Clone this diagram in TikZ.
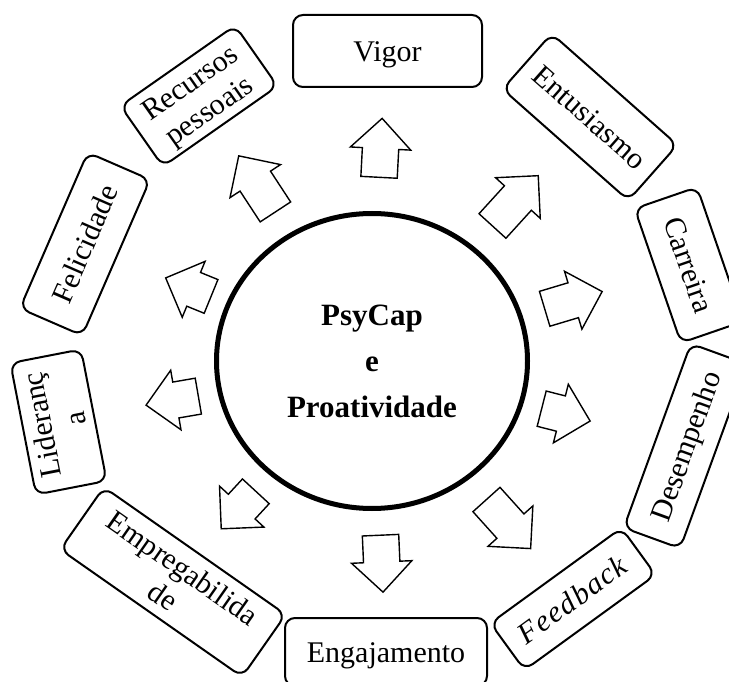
\documentclass[tikz,border=0pt]{standalone}
\usepackage{fontspec}
\setmainfont{Liberation Serif}
\usetikzlibrary{shapes.geometric,shapes.arrows}
\newcommand{\wstrut}{\rule[-0.216em]{0pt}{1.107em}}
\tikzset{
  termbox/.style={draw, line width=2pt, rounded corners=10pt, align=center, inner sep=0pt, font=\fontsize{30}{34}\selectfont},
  outarrow/.style={draw, line width=1.4pt, single arrow, single arrow head extend=12pt, single arrow head indent=0pt, inner xsep=0pt, inner ysep=17.5pt, anchor=tail},
}
\begin{document}
\begin{tikzpicture}[x=1pt,y=-1pt]
        \useasboundingbox (0,0) rectangle (729,682);
        \clip (0,0) rectangle (729,682);
        \node[draw, ellipse, line width=5pt, minimum width=311pt, minimum height=295pt, inner sep=0pt, align=center, font=\bfseries\fontsize{31}{46}\selectfont] (core) at (372,361) {PsyCap\\e\\Proatividade};
        \node[termbox, minimum width=189pt, minimum height=72pt] (vigor) at (387.5,51) {\wstrut Vigor};
        \node[termbox, minimum width=168pt, minimum height=74pt, rotate=-41.5] (entusiasmo) at (590,117) {\wstrut Entusiasmo};
        \node[termbox, minimum width=142pt, minimum height=66pt, rotate=-71] (carreira) at (689,265) {\wstrut Carreira};
        \node[termbox, minimum width=196pt, minimum height=60pt, rotate=70] (desempenho) at (685.5,446) {\wstrut Desempenho};
        \node[termbox, minimum width=162pt, minimum height=58pt, rotate=36] (feedback) at (573,599) {\wstrut\addfontfeature{LetterSpace=5}\textit{Feedback}};
        \node[termbox, minimum width=202pt, minimum height=68pt] (engajamento) at (386,652) {\wstrut Engajamento};
        \node[termbox, minimum width=222pt, minimum height=76pt, rotate=-35] (empregab) at (173,582) {\wstrut Empregabilida\\\wstrut de};
        \node[termbox, minimum width=134pt, minimum height=72pt, rotate=101] (lideranca) at (58.5,422) {\wstrut Lideranç\\\wstrut a};
        \node[termbox, minimum width=170pt, minimum height=68pt, rotate=66.5] (felicidade) at (85,244) {\wstrut Felicidade};
        \node[termbox, minimum width=140pt, minimum height=74pt, rotate=35] (recursos) at (199,96) {\wstrut Recursos\\\wstrut pessoais};
        \node[outarrow, minimum height=59pt, rotate=87] (toVigor) at (379,178) {};
        \node[outarrow, minimum height=68pt, rotate=47.7] (toEntusiasmo) at (492,226.5) {};
        \node[outarrow, minimum height=60pt, rotate=16.7] (toCarreira) at (544,309) {};
        \node[outarrow, minimum height=50pt, rotate=-14.3] (toDesempenho) at (541,408.5) {};
        \node[outarrow, minimum height=66pt, rotate=-48] (toFeedback) at (486,499) {};
        \node[outarrow, minimum height=57pt, rotate=-87.5] (toEngajamento) at (380.5,534.5) {};
        \node[outarrow, minimum height=51pt, rotate=-132.7] (toEmpregab) at (256.3,490.8) {};
        \node[outarrow, minimum height=53pt, rotate=-170.2] (toLideranca) at (199,396) {};
        \node[outarrow, minimum height=49pt, rotate=157.8] (toFelicidade) at (211.7,296.7) {};
        \node[outarrow, minimum height=67pt, rotate=123.2] (toRecursos) at (275.8,212.5) {};
      \end{tikzpicture}
\end{document}
